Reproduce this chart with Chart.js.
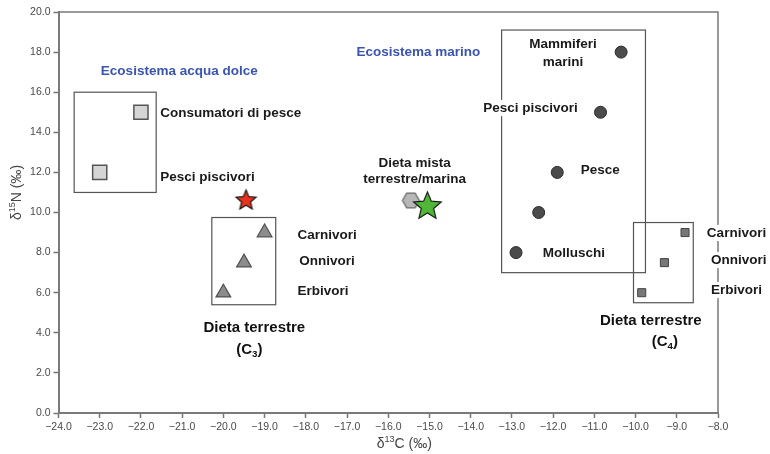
<!DOCTYPE html>
<html>
<head>
<meta charset="utf-8">
<script src="https://cdn.jsdelivr.net/npm/chart.js@4"></script>
<style>
  html, body { margin: 0; padding: 0; background: #fff; }
</style>
</head>
<body>
<canvas id="isotopeChart" width="770" height="454"></canvas>
<script>
// axis ranges
const xMin = -24, xMax = -8, xStep = 1;
const yMin = 0, yMax = 20, yStep = 2;

// series (δ13C, δ15N)
const freshX = [-22, -23];
const freshY = [15, 12];
const c3X = [-19, -19.5, -20];
const c3Y = [9, 7.5, 6];
const marineX = [-10.35, -10.85, -11.9, -12.35, -12.9];
const marineY = [18, 15, 12, 10, 8];
const c4X = [-8.8, -9.3, -9.85];
const c4Y = [9, 7.5, 6];
const humanX = [-19.45];
const humanY = [10.6];
const mixedHexX = [-15.45];
const mixedHexY = [10.6];
const mixedStarX = [-15.05];
const mixedStarY = [10.3];

// group boxes [xFrom, xTo, yFrom, yTo]
const freshBox = [-23.62, -21.63, 11, 16];
const c3Box = [-20.28, -18.73, 5.4, 9.75];
const marineBox = [-13.25, -9.76, 7, 19.1];
const c4Box = [-10.05, -8.6, 5.5, 9.5];

// annotation text anchored in data units
const notes = [
    { text: 'Ecosistema acqua dolce', x: -21.07, y: 17.06, align: 'center', kind: 'blue' },
    { text: 'Consumatori di pesce', x: -21.53, y: 14.96, align: 'left', kind: 'tag' },
    { text: 'Pesci piscivori', x: -21.53, y: 11.77, align: 'left', kind: 'tag' },
    { text: 'Carnivori', x: -18.2, y: 8.88, align: 'left', kind: 'tag' },
    { text: 'Onnivori', x: -18.16, y: 7.58, align: 'left', kind: 'tag' },
    { text: 'Erbivori', x: -18.2, y: 6.08, align: 'left', kind: 'tag' },
    { text: 'Dieta terrestre', x: -19.25, y: 4.24, align: 'center', kind: 'big' },
    { text: '(C|3|)', x: -19.37, y: 3.14, align: 'center', kind: 'big' },
    { text: 'Ecosistema marino', x: -16.77, y: 18.0, align: 'left', kind: 'blue' },
    { text: 'Mammiferi', x: -11.76, y: 18.4, align: 'center', kind: 'tag' },
    { text: 'marini', x: -11.76, y: 17.5, align: 'center', kind: 'tag' },
    { text: 'Pesci piscivori', x: -11.4, y: 15.21, align: 'right', kind: 'tag', bg: true },
    { text: 'Pesce', x: -11.33, y: 12.12, align: 'left', kind: 'tag' },
    { text: 'Molluschi', x: -12.25, y: 7.98, align: 'left', kind: 'tag' },
    { text: 'Dieta mista', x: -15.36, y: 12.47, align: 'center', kind: 'tag' },
    { text: 'terrestre/marina', x: -15.36, y: 11.67, align: 'center', kind: 'tag' },
    { text: 'Carnivori', x: -8.27, y: 8.98, align: 'left', kind: 'tag', bg: true },
    { text: 'Onnivori', x: -8.17, y: 7.63, align: 'left', kind: 'tag', bg: true },
    { text: 'Erbivori', x: -8.17, y: 6.13, align: 'left', kind: 'tag', bg: true },
    { text: 'Dieta terrestre', x: -9.63, y: 4.59, align: 'center', kind: 'big' },
    { text: '(C|4|)', x: -9.29, y: 3.54, align: 'center', kind: 'big' }
];

const FONT = '"Liberation Sans", Arial, Helvetica, sans-serif';
const noteStyles = {
    blue: { size: 13.5, weight: 'bold', color: '#3a54b2' },
    tag: { size: 13.5, weight: 'bold', color: '#1a1a1a' },
    big: { size: 15, weight: 'bold', color: '#111' }
};

function pts(xs, ys) {
    return xs.map((x, i) => ({ x: x, y: ys[i] }));
}

function starImage(R, fill, stroke) {
    const c = document.createElement('canvas');
    const s = Math.ceil(2 * R + 4);
    c.width = s; c.height = s;
    const g = c.getContext('2d');
    g.beginPath();
    for (let i = 0; i < 10; i++) {
        const r = i % 2 ? R * 0.45 : R;
        const a = -Math.PI / 2 + i * Math.PI / 5;
        g.lineTo(s / 2 + r * Math.cos(a), s / 2 + r * Math.sin(a));
    }
    g.closePath();
    g.fillStyle = fill;
    g.fill();
    g.lineWidth = 1.2;
    g.strokeStyle = stroke;
    g.stroke();
    return c;
}

function hexImage(R, fill, stroke) {
    const c = document.createElement('canvas');
    const s = Math.ceil(2 * R + 4);
    c.width = s; c.height = s;
    const g = c.getContext('2d');
    g.beginPath();
    for (let i = 0; i < 6; i++) {
        const a = i * Math.PI / 3;
        g.lineTo(s / 2 + R * Math.cos(a), s / 2 + R * Math.sin(a));
    }
    g.closePath();
    g.fillStyle = fill;
    g.fill();
    g.lineWidth = 1.2;
    g.strokeStyle = stroke;
    g.stroke();
    return c;
}

// text in pieces split by '|': odd pieces are sub/superscripts
function drawPieces(ctx, text, x, y, align, st, supText) {
    const parts = text.split('|');
    const small = st.size * 0.65;
    const widths = parts.map((p, i) => {
        ctx.font = st.weight + ' ' + (i % 2 ? small : st.size) + 'px ' + FONT;
        return ctx.measureText(p).width;
    });
    const total = widths.reduce((a, b) => a + b, 0);
    let cx = align === 'center' ? x - total / 2 : (align === 'right' ? x - total : x);
    ctx.textAlign = 'left';
    ctx.textBaseline = 'middle';
    ctx.fillStyle = st.color;
    parts.forEach((p, i) => {
        const sub = i % 2 === 1;
        ctx.font = st.weight + ' ' + (sub ? small : st.size) + 'px ' + FONT;
        const dy = sub ? (supText ? -st.size * 0.3 : st.size * 0.3) : 0;
        ctx.fillText(p, cx, y + dy);
        cx += widths[i];
    });
    return total;
}

const groupBoxes = {
    id: 'groupBoxes',
    beforeDatasetsDraw(chart) {
        const { ctx, chartArea, scales: { x, y } } = chart;
        ctx.save();
        // top and right frame
        ctx.strokeStyle = '#7a7a7a';
        ctx.lineWidth = 1.5;
        ctx.beginPath();
        ctx.moveTo(chartArea.left, chartArea.top);
        ctx.lineTo(chartArea.right, chartArea.top);
        ctx.lineTo(chartArea.right, chartArea.bottom);
        ctx.stroke();
        ctx.strokeStyle = '#555';
        ctx.lineWidth = 1.2;
        [freshBox, c3Box, marineBox, c4Box].forEach(b => {
            const x1 = x.getPixelForValue(b[0]), x2 = x.getPixelForValue(b[1]);
            const y1 = y.getPixelForValue(b[3]), y2 = y.getPixelForValue(b[2]);
            ctx.strokeRect(x1, y1, x2 - x1, y2 - y1);
        });
        ctx.restore();
    }
};

const noteText = {
    id: 'noteText',
    afterDatasetsDraw(chart) {
        const { ctx, chartArea, scales: { x, y } } = chart;
        ctx.save();
        notes.forEach(n => {
            const st = noteStyles[n.kind];
            const px = x.getPixelForValue(n.x), py = y.getPixelForValue(n.y);
            if (n.bg) {
                ctx.font = st.weight + ' ' + st.size + 'px ' + FONT;
                const w = ctx.measureText(n.text).width;
                const left = n.align === 'right' ? px - w : (n.align === 'center' ? px - w / 2 : px);
                ctx.fillStyle = '#fff';
                ctx.fillRect(left - 3, py - st.size * 0.6, w + 6, st.size * 1.2);
            }
            drawPieces(ctx, n.text, px, py, n.align, st, false);
        });

        // axis titles
        const ax = { size: 14, weight: 'normal', color: '#444' };
        drawPieces(ctx, 'δ|13|C (‰)', (chartArea.left + chartArea.right) / 2 + 16, chartArea.bottom + 31, 'center', ax, true);
        ctx.translate(17, (chartArea.top + chartArea.bottom) / 2 - 20);
        ctx.rotate(-Math.PI / 2);
        drawPieces(ctx, 'δ|15|N (‰)', 0, 0, 'center', ax, true);
        ctx.restore();
    }
};

const fmt = v => v.toFixed(1).replace('-', '\u2212');

new Chart(document.getElementById('isotopeChart'), {
    type: 'scatter',
    data: {
        datasets: [
            {
                label: 'Acqua dolce',
                data: pts(freshX, freshY),
                pointStyle: 'rect',
                pointRadius: 10,
                backgroundColor: '#d5d5d5',
                borderColor: '#555',
                borderWidth: 1.5
            },
            {
                label: 'Terrestre C3',
                data: pts(c3X, c3Y),
                pointStyle: 'triangle',
                pointRadius: 8.5,
                backgroundColor: '#8c8c8c',
                borderColor: '#505050',
                borderWidth: 1.2
            },
            {
                label: 'Marino',
                data: pts(marineX, marineY),
                pointStyle: 'circle',
                pointRadius: 6,
                backgroundColor: '#4b4b4b',
                borderColor: '#2a2a2a',
                borderWidth: 1
            },
            {
                label: 'Terrestre C4',
                data: pts(c4X, c4Y),
                pointStyle: 'rect',
                pointRadius: 5.7,
                backgroundColor: '#777',
                borderColor: '#444',
                borderWidth: 1
            },
            {
                label: 'Umani',
                data: pts(humanX, humanY),
                pointStyle: starImage(10.5, '#e8321e', '#1a1a1a'),
                pointRadius: 10
            },
            {
                label: 'Mista stella',
                data: pts(mixedStarX, mixedStarY),
                pointStyle: starImage(14.5, '#4fb637', '#1a1a1a'),
                pointRadius: 14,
                order: 1
            },
            {
                label: 'Mista',
                data: pts(mixedHexX, mixedHexY),
                pointStyle: hexImage(8.5, '#b7b7b7', '#666'),
                pointRadius: 9,
                order: 2
            }
        ]
    },
    options: {
        responsive: false,
        animation: false,
        layout: { autoPadding: false, padding: { top: 12, right: 52, left: 0, bottom: 0 } },
        plugins: {
            legend: { display: false },
            tooltip: { enabled: false }
        },
        scales: {
            x: {
                type: 'linear',
                min: xMin,
                max: xMax,
                afterFit: s => { s.height = 41; },
                ticks: {
                    stepSize: xStep,
                    callback: fmt,
                    color: '#4a4a4a',
                    padding: 3,
                    maxRotation: 0,
                    autoSkip: false,
                    font: { family: FONT, size: 10.5 }
                },
                grid: { drawOnChartArea: false, tickLength: 5, tickColor: '#777', tickWidth: 1.5 },
                border: { color: '#7a7a7a', width: 2 }
            },
            y: {
                type: 'linear',
                min: yMin,
                max: yMax,
                afterFit: s => { s.width = 58.5; },
                ticks: {
                    stepSize: yStep,
                    callback: fmt,
                    color: '#4a4a4a',
                    padding: 3,
                    font: { family: FONT, size: 10.5 }
                },
                grid: { drawOnChartArea: false, tickLength: 5, tickColor: '#777', tickWidth: 1.5 },
                border: { color: '#7a7a7a', width: 2 }
            }
        }
    },
    plugins: [groupBoxes, noteText]
});
</script>
</body>
</html>
